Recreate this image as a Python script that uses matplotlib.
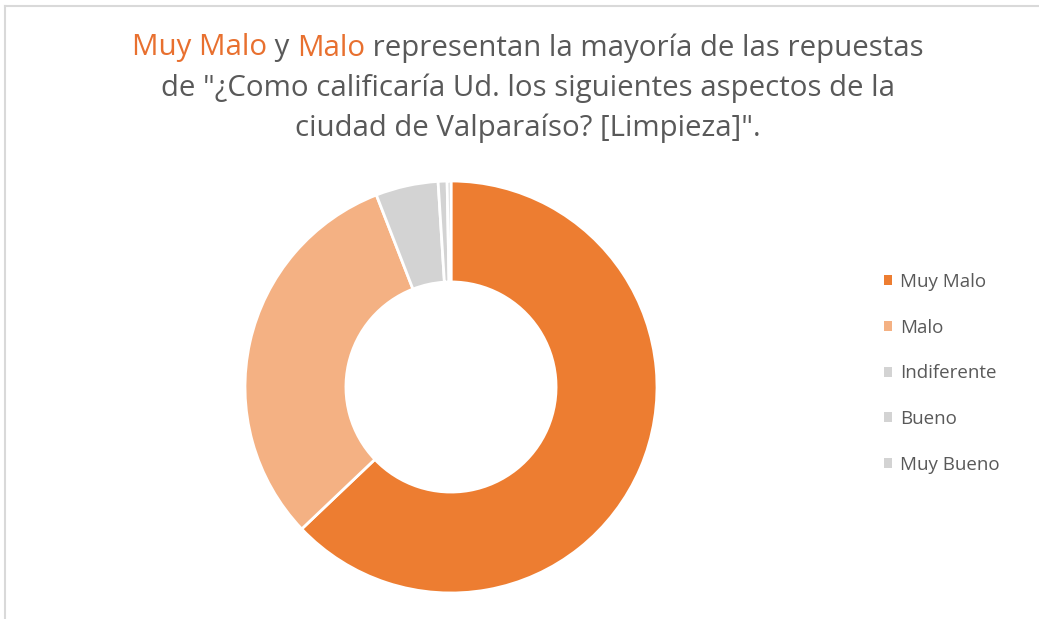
import matplotlib.pyplot as plt
from matplotlib.patches import Patch

labels = ['Muy Malo', 'Malo', 'Indiferente', 'Bueno', 'Muy Bueno']
values = [62.9, 31.2, 4.9, 0.7, 0.3]
colors = ['#ED7D31', '#F4B183', '#D3D3D3', '#D3D3D3', '#D3D3D3']

title_line1 = [('Muy Malo', '#E8702F'), (' y ', '#595959'), ('Malo', '#E8702F'),
               (' representan la mayoría de las repuestas', '#595959')]
title_line2 = 'de "¿Como calificaría Ud. los siguientes aspectos de la'
title_line3 = 'ciudad de Valparaíso? [Limpieza]".'

W, H = 1039, 619
plt.rcParams['font.family'] = ['Open Sans', 'DejaVu Sans']
fig = plt.figure(figsize=(W / 100, H / 100), dpi=100)

# chart area border (top and left only visible)
fig.add_artist(plt.Line2D([5 / W, 5 / W], [0, 1 - 6 / H], color='#D9D9D9', lw=1.5))
fig.add_artist(plt.Line2D([5 / W, 1], [1 - 6 / H, 1 - 6 / H], color='#D9D9D9', lw=1.5))

cx, cy, r = 451, 387, 206
ax = fig.add_axes([(cx - 210) / W, (H - cy - 210) / H, 420 / W, 420 / H])
ax.pie(values, colors=colors, startangle=90, counterclock=False, radius=1,
       wedgeprops=dict(width=0.49, edgecolor='white', linewidth=2))
ax.set_xlim(-420 / 2 / r, 420 / 2 / r)
ax.set_ylim(-420 / 2 / r, 420 / 2 / r)
ax.set_aspect('equal')
ax.axis('off')

handles = [Patch(facecolor=c, edgecolor='none') for c in colors]
fig.legend(handles, labels, loc='upper left', bbox_to_anchor=(867 / W, 1 - 256 / H),
           frameon=False, fontsize=13.5, labelcolor='#595959',
           handlelength=0.45, handleheight=0.45, handletextpad=0.43,
           labelspacing=1.48)

# title, drawn piece by piece so the two words can be orange
fs = 21.2
renderer = fig.canvas.get_renderer()
pieces = []
for txt, col in title_line1:
    t = fig.text(0, 1 - 48 / H, txt, fontsize=fs, color=col, va='center', ha='left')
    pieces.append(t)
widths = [p.get_window_extent(renderer).width for p in pieces]
x = 528 - sum(widths) / 2
for p, w in zip(pieces, widths):
    p.set_x(x / W)
    x += w
fig.text(528 / W, 1 - 88 / H, title_line2, fontsize=fs, color='#595959', va='center', ha='center')
fig.text(528 / W, 1 - 128 / H, title_line3, fontsize=fs, color='#595959', va='center', ha='center')

fig.savefig('out.png', dpi=100, facecolor='white')
